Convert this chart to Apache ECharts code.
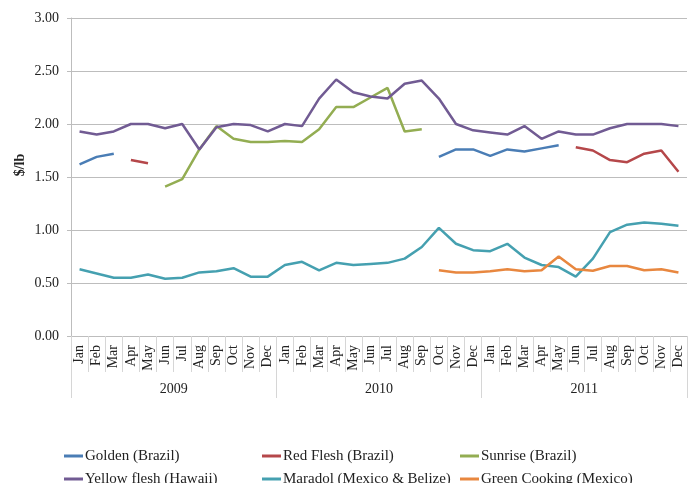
<!DOCTYPE html>
<html><head><meta charset="utf-8">
<script src="https://cdn.jsdelivr.net/npm/echarts@6/dist/echarts.min.js"></script>
<style>html,body{margin:0;padding:0;background:#fff}#c{width:696px;height:483px}</style>
</head><body><div id="c"></div>
<script>
const months = ['Jan','Feb','Mar','Apr','May','Jun','Jul','Aug','Sep','Oct','Nov','Dec'];
const years = ['2009','2010','2011'];
const categories = [].concat(months, months, months);
const yTicks = [0, 0.5, 1, 1.5, 2, 2.5, 3];
const N = null;
const golden = [1.62,1.69,1.72,N,N,N,N,N,N,N,N,N, N,N,N,N,N,N,N,N,N,1.69,1.76,1.76, 1.70,1.76,1.74,1.77,1.80,N,N,N,N,N,N,N];
const redFlesh = [N,N,N,1.66,1.63,N,N,N,N,N,N,N, N,N,N,N,N,N,N,N,N,N,N,N, N,N,N,N,N,1.78,1.75,1.66,1.64,1.72,1.75,1.55];
const sunrise = [N,N,N,N,N,1.41,1.48,1.76,1.98,1.86,1.83,1.83, 1.84,1.83,1.95,2.16,2.16,2.25,2.34,1.93,1.95,N,N,N, N,N,N,N,N,N,N,N,N,N,N,N];
const yellowFlesh = [1.93,1.90,1.93,2.00,2.00,1.96,2.00,1.76,1.97,2.00,1.99,1.93, 2.00,1.98,2.24,2.42,2.30,2.26,2.24,2.38,2.41,2.24,2.00,1.94, 1.92,1.90,1.98,1.86,1.93,1.90,1.90,1.96,2.00,2.00,2.00,1.98];
const maradol = [0.63,0.59,0.55,0.55,0.58,0.54,0.55,0.60,0.61,0.64,0.56,0.56, 0.67,0.70,0.62,0.69,0.67,0.68,0.69,0.73,0.84,1.02,0.87,0.81, 0.80,0.87,0.74,0.67,0.65,0.56,0.73,0.98,1.05,1.07,1.06,1.04];
const greenCooking = [N,N,N,N,N,N,N,N,N,N,N,N, N,N,N,N,N,N,N,N,N,0.62,0.60,0.60, 0.61,0.63,0.61,0.62,0.75,0.63,0.615,0.66,0.66,0.62,0.63,0.60];

const names = ['Golden (Brazil)','Red Flesh (Brazil)','Sunrise (Brazil)','Yellow flesh (Hawaii)','Maradol (Mexico & Belize)','Green Cooking (Mexico)'];
const dataSets = [golden, redFlesh, sunrise, yellowFlesh, maradol, greenCooking];
const colors = ['#4A7DB5','#B5474A','#93AD52','#715B93','#45A0B0','#E8873F'];

const FONT = '"Liberation Serif", "Times New Roman", serif';
const gridColor = '#bdbdbd';
const sepColor = '#d6d6d6';

const legendPos = [[59,443],[257,443],[455,443],[59,466],[257,466],[455,466]];
const legends = names.map((n,i)=>({
  data:[n], left:legendPos[i][0], top:legendPos[i][1], icon:'rect', itemWidth:19, itemHeight:3,
  textStyle:{fontFamily:FONT, fontSize:15, color:'#222', lineHeight:16, padding:[0,0,0,-3]}
}));

const chart = echarts.init(document.getElementById('c'), null, {renderer:'canvas'});
chart.setOption({
  animation:false,
  color: colors,
  grid:{left:71, right:9, top:18, bottom:147, containLabel:false},
  legend: legends,
  xAxis:[{
    type:'category', data:categories, position:'bottom', boundaryGap:true,
    axisLine:{show:true, lineStyle:{color:gridColor}},
    axisTick:{show:true, interval:0, length:36, lineStyle:{color:sepColor}},
    axisLabel:{interval:0, rotate:90, margin:9, fontFamily:FONT, fontSize:14, color:'#222'}
  },{
    type:'category', data:years, position:'bottom', offset:36, boundaryGap:true, gridIndex:0,
    axisLine:{show:false},
    axisTick:{show:true, interval:0, length:26, lineStyle:{color:sepColor}},
    axisLabel:{interval:0, margin:10, fontFamily:FONT, fontSize:14, color:'#222'}
  }],
  yAxis:{
    type:'value', min:yTicks[0], max:yTicks[yTicks.length-1], interval:0.5,
    axisLine:{show:true, lineStyle:{color:gridColor}},
    axisTick:{show:true, length:4, lineStyle:{color:gridColor}},
    splitLine:{show:true, lineStyle:{color:gridColor}},
    axisLabel:{margin:12, fontFamily:FONT, fontSize:14, color:'#222', formatter:v=>v.toFixed(2)}
  },
  graphic:[{
    type:'text', x:20, y:165, rotation:Math.PI/2,
    style:{text:'$/lb', font:'bold 14px '+FONT, fill:'#222', textAlign:'center', textVerticalAlign:'middle'}
  }],
  series: names.map((n,i)=>({
    name:n, type:'line', data:dataSets[i], xAxisIndex:0, showSymbol:false, symbol:'none',
    connectNulls:false, lineStyle:{width:2.5, color:colors[i]}, itemStyle:{color:colors[i]}
  }))
});
</script>
</body></html>
